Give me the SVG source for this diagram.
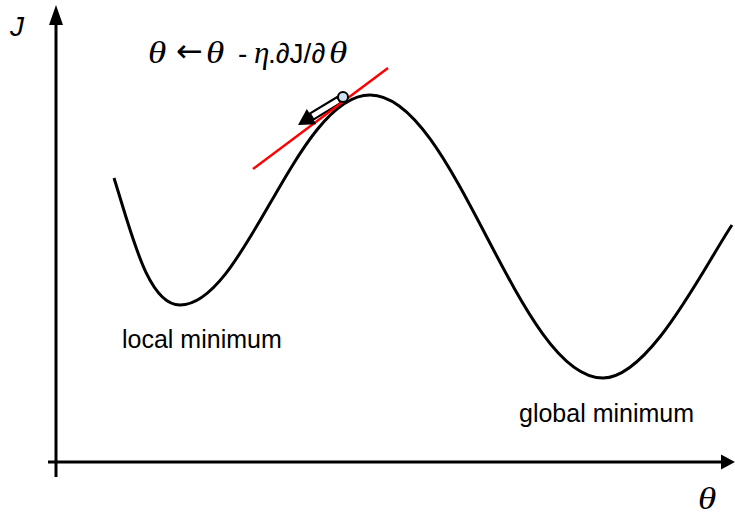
<svg xmlns="http://www.w3.org/2000/svg" width="735" height="516" viewBox="0 0 735 516">
<style>
.ax{stroke:#000;stroke-width:3;fill:none}
.lbl{font-family:"Liberation Sans",Arial,sans-serif;font-size:25px;fill:#000}
.th{font-family:"Liberation Serif","Times New Roman",serif;font-style:italic;font-size:31px;fill:#000}
.sans{font-family:"Liberation Sans",Arial,sans-serif;font-size:28px;fill:#000}
</style>
<rect width="735" height="516" fill="#fff"/>
<g id="axes">
<line class="ax" x1="56" y1="477" x2="56" y2="24"/>
<polygon points="56,5 49,25 63,25" fill="#000"/>
<line class="ax" x1="48" y1="462" x2="722" y2="462"/>
<polygon points="735,462 721,454.5 721,469.5" fill="#000"/>
</g>
<g id="curve">
<path class="ax" d="M114,178 C132,235 148,305 180,305 C245,305 297,95 370,95 C455,95 518,378 603,378 C650,378 705,265 732,225"/>
</g>
<g id="gradient-step">
<polygon points="313.4,119.6 309.8,113.6 337.2,97 340.8,103" fill="#fff" stroke="#000" stroke-width="2.2"/>
<line x1="253" y1="169" x2="388" y2="68" stroke="#ff0000" stroke-width="2.5"/>
<polygon points="298,125 316.3,124.2 306.8,108.9" fill="#000"/>
<circle cx="343" cy="97" r="5" fill="#cfe0f2" stroke="#000" stroke-width="2"/>
</g>
<g id="labels">
<text x="10" y="36" style="font-family:'Liberation Sans',Arial,sans-serif;font-size:28px;font-style:italic">J</text>
<text class="th" transform="translate(698,509) scale(1.2,1)">θ</text>
<text class="lbl" x="122" y="348">local minimum</text>
<text class="lbl" x="519" y="422">global minimum</text>
</g>
<g id="formula">
<text class="th" transform="translate(148,63) scale(1.2,1)">θ</text>
<text x="176" y="62" font-family="'DejaVu Sans',sans-serif" font-size="32">←</text>
<text class="th" transform="translate(206,63) scale(1.2,1)">θ</text>
<text class="sans" x="238" y="63">-</text>
<text class="th" x="254" y="63" font-size="29">η</text>
<text class="sans" x="268" y="63">.∂J/∂</text>
<text class="th" transform="translate(329,63) scale(1.2,1)">θ</text>
</g>
</svg>
